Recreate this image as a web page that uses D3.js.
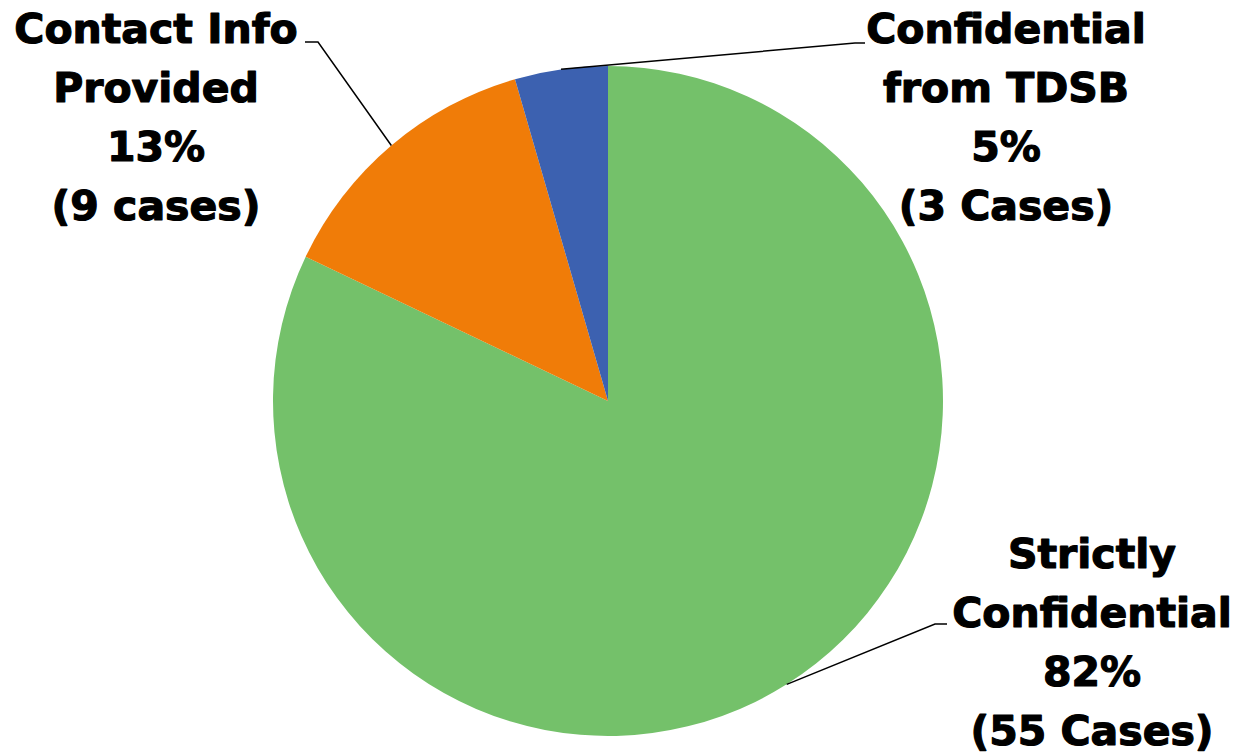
<!DOCTYPE html>
<html><head><meta charset="utf-8">
<script src="https://cdn.jsdelivr.net/npm/d3@7"></script>
<style>html,body{margin:0;padding:0;background:#fff;}svg{display:block;}</style>
</head><body>
<svg id="chart" width="1238" height="754"></svg>
<script>
const categories = ["Strictly Confidential", "Contact Info Provided", "Confidential from TDSB"];
const cases = [55, 9, 3];
const percentLabels = ["82%", "13%", "5%"];
const nameLines = [["Strictly", "Confidential"], ["Contact Info", "Provided"], ["Confidential", "from TDSB"]];
const caseLabels = ["(55 Cases)", "(9 cases)", "(3 Cases)"];
const colors = ["#74C16A", "#F07C08", "#3C61B0"];

const W = 1238, H = 754;
const cx = 608, cy = 401, R = 335;
const svg = d3.select("#chart");
const g = svg.append("g").attr("transform", `translate(${cx},${cy})`);

const pie = d3.pie().sort(null).value(d => d);
const arcs = pie(cases);
const arc = d3.arc().innerRadius(0).outerRadius(R);
const color = d3.scaleOrdinal().domain(categories).range(colors);

g.selectAll("path.slice").data(arcs).enter().append("path")
  .attr("class", "slice")
  .attr("d", arc)
  .attr("fill", (d, i) => color(categories[i]));

// label layout (positions in page coordinates)
const labelLayout = [
  {x: 1092, y0: 568, elbow: [935, 624], end: [947, 624]},
  {x: 156, y0: 43, elbow: [318, 42], end: [305, 42]},
  {x: 1006, y0: 43, elbow: [855, 43], end: [865, 43]}
];
const lineH = 59;

arcs.forEach((a, i) => {
  const mid = (a.startAngle + a.endAngle) / 2;
  const ax = cx + R * Math.sin(mid), ay = cy - R * Math.cos(mid);
  const L = labelLayout[i];
  svg.append("polyline")
    .attr("points", [[ax, ay], L.elbow, L.end].map(p => p.join(",")).join(" "))
    .attr("fill", "none").attr("stroke", "#000").attr("stroke-width", 1.5);
  const lines = nameLines[i].concat([percentLabels[i], caseLabels[i]]);
  const t = svg.append("text")
    .attr("text-anchor", "middle")
    .attr("font-family", "'DejaVu Sans', sans-serif")
    .attr("font-weight", "bold")
    .attr("font-size", 41)
    .attr("fill", "#000")
    .attr("stroke", "#000")
    .attr("stroke-width", 1.2)
    .attr("stroke-linejoin", "round");
  lines.forEach((s, k) => {
    t.append("tspan").attr("x", L.x).attr("y", L.y0 + k * lineH).text(s);
  });
});
</script>
</body></html>
